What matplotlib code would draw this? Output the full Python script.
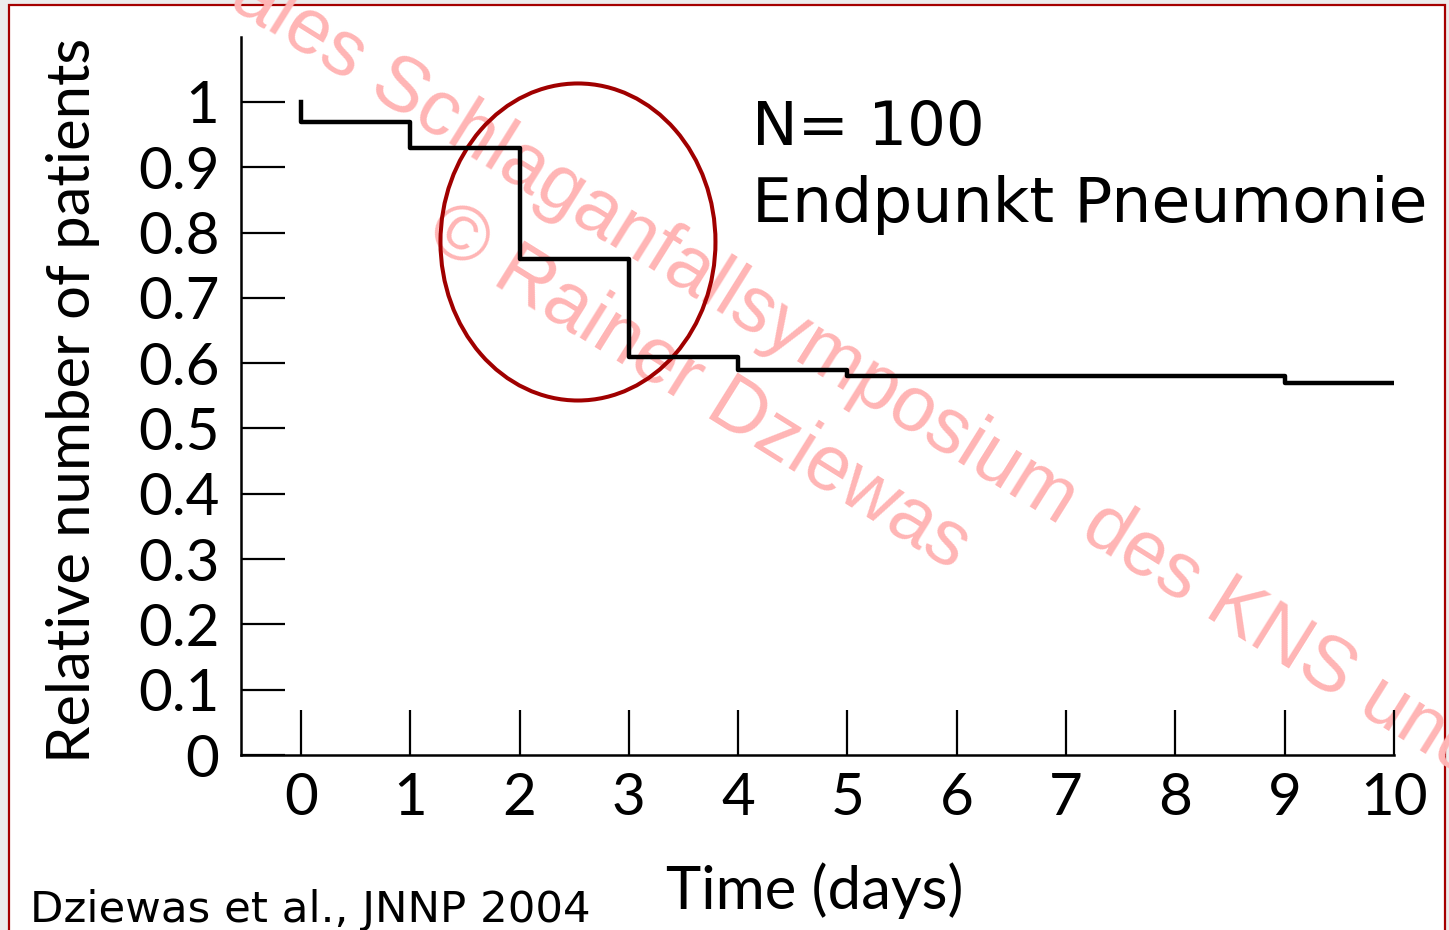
import matplotlib
matplotlib.use("Agg")
import matplotlib.pyplot as plt
from matplotlib.patches import Ellipse, Rectangle

# share of patients without pneumonia over time (Dziewas et al., JNNP 2004)
days = [0, 0, 1, 2, 3, 4, 5, 9, 10]
share = [1.0, 0.97, 0.93, 0.76, 0.61, 0.59, 0.58, 0.57, 0.57]

x_ticks = [0, 1, 2, 3, 4, 5, 6, 7, 8, 9, 10]
y_ticks = [0, 0.1, 0.2, 0.3, 0.4, 0.5, 0.6, 0.7, 0.8, 0.9, 1]
y_tick_labels = ["0", "0.1", "0.2", "0.3", "0.4", "0.5", "0.6", "0.7", "0.8", "0.9", "1"]

note_lines = ["N= 100", "Endpunkt Pneumonie"]
source = "Dziewas et al., JNNP 2004"
watermark = ["ales Schlaganfallsymposium des KNS und", "\u00a9 Rainer Dziewas"]

fig = plt.figure(figsize=(14.49, 9.3), dpi=100, facecolor="#ececec")

# white slide area with red frame
fig.add_artist(Rectangle((0.00587, -0.02), 0.9917, 1.01516, transform=fig.transFigure,
                         facecolor="white", edgecolor="#a50000", lw=1.6, zorder=-2))

# watermark behind the plot
fig.text(0.1567, 0.9946, watermark[0], rotation=-32, rotation_mode="anchor",
         ha="left", va="baseline", fontsize=56, family="Liberation Sans",
         color="#ffb5b5", zorder=-1)
fig.text(0.2920, 0.7419, watermark[1], rotation=-32, rotation_mode="anchor",
         ha="left", va="baseline", fontsize=56, family="Liberation Sans",
         color="#ffb5b5", zorder=-1)

ax = fig.add_axes([0.16632, 0.18817, 0.79572, 0.77204])
ax.patch.set_visible(False)

ax.step(days, share, where="post", color="black", lw=3.2)

ax.set_xlim(-0.549, 10)
ax.set_ylim(0, 1.0995)

for side in ["top", "right"]:
    ax.spines[side].set_visible(False)
for side in ["left", "bottom"]:
    ax.spines[side].set_linewidth(1.8)

ax.set_xticks(x_ticks)
ax.set_xticklabels([str(d) for d in x_ticks], family="Lato", fontsize=42)
ax.set_yticks(y_ticks)
ax.set_yticklabels(y_tick_labels, family="Lato", fontsize=42)
ax.tick_params(axis="y", direction="in", length=31.7, width=1.6, pad=15.5)
ax.tick_params(axis="x", direction="in", length=32.4, width=1.6, pad=12)

ax.set_ylabel("Relative number of patients", family="Lato", fontsize=43)
ax.yaxis.set_label_coords(-0.1223, 0.4944)
ax.set_xlabel("Time (days)", family="Lato", fontsize=43)
ax.xaxis.set_label_coords(0.4978, -0.149)

# highlight of the early drop
ax.add_patch(Ellipse((2.534, 0.7856), 2.516, 0.4855, fill=False,
                     edgecolor="#a00000", lw=2.9, clip_on=False))

fig.text(0.519, 0.8441, note_lines[0], fontsize=44, ha="left", va="baseline")
fig.text(0.519, 0.7613, note_lines[1], fontsize=45.5, ha="left", va="baseline")
fig.text(0.0207, 0.0086, source, fontsize=31.3, ha="left", va="baseline")

fig.savefig("out.png", dpi=100, facecolor=fig.get_facecolor())
